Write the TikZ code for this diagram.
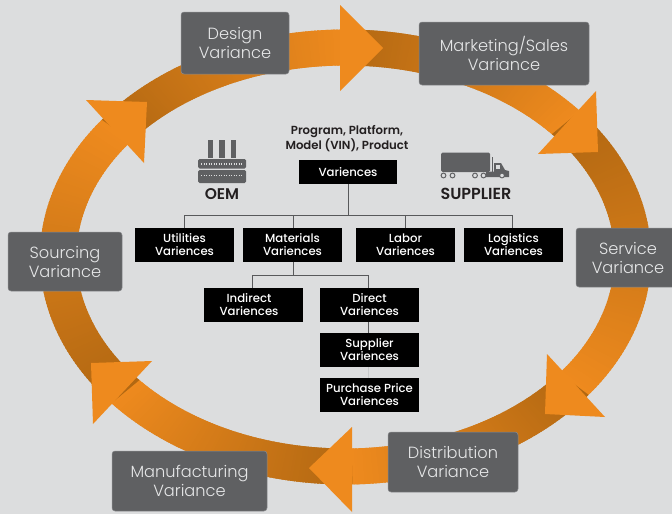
\documentclass[tikz,border=0pt]{standalone}
\usepackage{fontspec}
\setmainfont{Poppins}
\newfontfamily\lightf{Poppins Light}
\newfontfamily\medf{Poppins Medium}
\newfontfamily\semif{Poppins SemiBold}
\definecolor{bgc}{HTML}{DCDDDE}
\definecolor{orng}{HTML}{EE8A1E}
\definecolor{drk}{HTML}{B26812}
\definecolor{boxc}{HTML}{5F6062}
\definecolor{boxedge}{HTML}{8A8B8D}
\definecolor{boxtxt}{HTML}{E6E7E8}
\definecolor{linec}{HTML}{58595B}
\definecolor{inkc}{HTML}{231F20}
\tikzset{
  greybox/.style={rectangle,rounded corners=3,fill=boxc,draw=boxedge,line width=0.5,inner sep=0,outer sep=0,align=center,text=boxtxt,font=\lightf\fontsize{16.2}{19}\selectfont},
  blkbase/.style={rectangle,fill=black,inner sep=0,outer sep=0,align=center,text=white,font=\medf\fontsize{11.7}{13}\selectfont},
  blkbox/.style={blkbase,minimum width=99,minimum height=34,execute at begin node={\rule{0pt}{14pt}}},
  wire/.style={draw=linec,line width=1},
  fadewire/.style={draw=boxedge!25!bgc,line width=1},
  caption/.style={inner sep=0,outer sep=0,align=center,text=inkc},
  icon/.style={fill=boxc,draw=none}
}
\newcommand{\ringband}[2]{%
  \foreach \i in {0,...,89}{%
    \pgfmathsetmacro\aa{#1+(#2-#1)*\i/90}%
    \pgfmathsetmacro\ab{#1+(#2-#1)*(\i+1)/90+0.4}%
    \pgfmathtruncatemacro\pp{100*\i/89}%
    \fill[orng!\pp!drk,shift={(345.5,257)}]
      (\aa:305.6 and 227.5) -- (\ab:305.6 and 227.5) -- (\ab:269 and 191.5) -- (\aa:269 and 191.5) -- cycle;
  }%
}
\begin{document}
\begin{tikzpicture}[x=1pt,y=-1pt]
\useasboundingbox (0,0) rectangle (672,514);
\clip (0,0) rectangle (672,514);
\fill[bgc] (0,0) rectangle (672,514);
% ring
\ringband{216.7}{270}
\ringband{-91}{-39.9}
\ringband{-39.9}{37.3}
\ringband{37.3}{88.7}
\ringband{88.7}{140}
\ringband{140}{216.7}
% heads
\fill[orng] (340,5) -- (383,48) -- (340,91) -- cycle;
\fill[orng] (596,91) -- (598,152) -- (538,154) -- cycle;
\fill[orng] (547,354) -- (605,417) -- (545,414) -- cycle;
\fill[orng] (352,427) -- (309,468) -- (352,512) -- cycle;
\fill[orng] (152,361) -- (91,363) -- (93,424) -- cycle;
\fill[orng] (86,100) -- (147,102) -- (144,163) -- cycle;
% grey boxes
\node[greybox,minimum width=108,minimum height=62] (design) at (235,43) {Design\\Variance};
\node[greybox,minimum width=170,minimum height=63] (market) at (504,53.5) {Marketing/Sales\\Variance};
\node[greybox,minimum width=104,minimum height=59] (service) at (628,257.5) {Service\\Variance};
\node[greybox,minimum width=130,minimum height=60] (distrib) at (453,462) {Distribution\\Variance};
\node[greybox,minimum width=155,minimum height=60] (manuf) at (189.5,481) {Manufacturing\\Variance};
\node[greybox,minimum width=114,minimum height=59] (sourcing) at (65,261.5) {Sourcing\\Variance};
% black boxes
\node[blkbase,minimum width=98,minimum height=24] (vari) at (348,172) {Variences};
\node[blkbox] (util) at (184.5,245) {Utilities\\Variences};
\node[blkbox] (mat) at (292.5,245) {Materials\\Variences};
\node[blkbox] (labor) at (405.5,245) {Labor\\Variences};
\node[blkbox] (logi) at (513.5,245) {Logistics\\Variences};
\node[blkbox] (indir) at (253.5,305) {\hspace*{-9pt}Indirect\\\hspace*{-9pt}Variences};
\node[blkbox] (direct) at (369.5,305) {Direct\\Variences};
\node[blkbox] (suppl) at (369.5,350) {Supplier\\Variences};
\node[blkbox] (purch) at (369.5,395) {Purchase Price\\Variences};
% connectors
\coordinate (busa) at (348,215);
\coordinate (busb) at (293,275);
\draw[wire] (vari.south) -- (busa);
\draw[wire] (util.north) |- (busa);
\draw[wire] ([xshift=0.5]mat.north) |- (busa);
\draw[wire] (labor.north) |- (busa);
\draw[wire] ([xshift=-1.5]logi.north) |- (busa);
\draw[wire] ([xshift=0.5]mat.south) -- (busb);
\draw[wire] ([xshift=-1.5]indir.north) |- (busb);
\draw[wire] ([xshift=-1.5]direct.north) |- (busb);
\draw[wire] ([xshift=-1.5]direct.south) -- ([xshift=-1.5]suppl.north);
\draw[fadewire] ([xshift=-1.5]suppl.south) -- ([xshift=-1.5]purch.north);
% captions
\node[caption,font=\semif\fontsize{11.7}{13}\selectfont] (prog) at (347,138.5) {Program, Platform,\\Model (VIN), Product};
\node[caption,font=\semif\fontsize{15.5}{16}\selectfont] (oem) at (222,194) {OEM};
\node[caption,font=\semif\fontsize{16}{16}\selectfont] (supp) at (476,194) {SUPPLIER};
% factory icon
\fill[icon] (207.5,140) rectangle (212.5,158);
\fill[icon] (219,140) rectangle (224.5,158);
\fill[icon] (231,140) rectangle (236,158);
\fill[icon,rounded corners=1.5] (198,159) rectangle (246,168.5);
\fill[icon,rounded corners=1.5] (198,170) rectangle (246,183);
\draw[bgc,line width=1.6,dash pattern=on 1.4 off 1.1] (201,163.7) -- (243,163.7);
\draw[bgc,line width=1.6,dash pattern=on 1.4 off 1.1] (201,175.5) -- (243,175.5);
% truck icon
\fill[icon,rounded corners=1.5] (441,152.5) rectangle (490,172);
\draw[boxc,line width=1] (492,157) -- (492,172);
\fill[icon] (486,174) -- (486,171.5) -- (494,171.5) -- (494,163) -- (501,163) -- (505,170) -- (509,171) -- (509,177) -- (486,177) -- cycle;
\fill[bgc] (495.5,164.5) rectangle (500,169);
\foreach \wx in {443.5,452.5,475,483.5,502}{
  \draw[boxc,fill=bgc,line width=1] (\wx,175.5) circle (2.4);
}
\end{tikzpicture}
\end{document}
